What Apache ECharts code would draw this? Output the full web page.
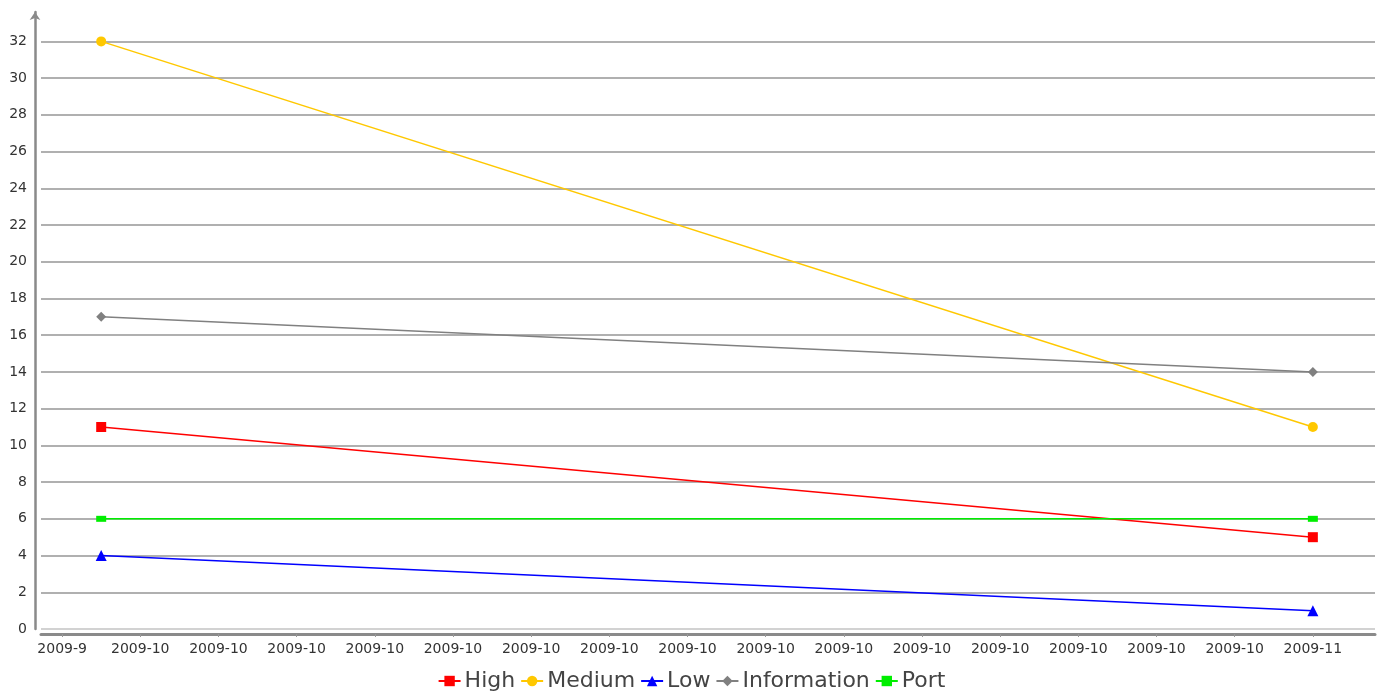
<!DOCTYPE html>
<html>
<head>
<meta charset="utf-8">
<script src="https://cdn.jsdelivr.net/npm/echarts@6/dist/echarts.min.js"></script>
<style>html,body{margin:0;padding:0;background:#fff;}#c{width:1383px;height:693px;}</style>
</head>
<body>
<div id="c"></div>
<script>
// Dates of the two observations, as days counted from 2009-09-30
var dates = ['2009-10-01', '2009-11-01'];
var xDays = [1, 32];
// Series values
var high = [11, 5];
var medium = [32, 11];
var low = [4, 1];
var information = [17, 14];
var port = [6, 6];
// X tick positions (days from 2009-09-30) and their labels
var xTickValues = [0, 2, 4, 6, 8, 10, 12, 14, 16, 18, 20, 22, 24, 26, 28, 30, 32];
var xTickLabels = ['2009-9', '2009-10', '2009-10', '2009-10', '2009-10', '2009-10', '2009-10', '2009-10',
  '2009-10', '2009-10', '2009-10', '2009-10', '2009-10', '2009-10', '2009-10', '2009-10', '2009-11'];
// Y tick values
var yTickValues = [0, 2, 4, 6, 8, 10, 12, 14, 16, 18, 20, 22, 24, 26, 28, 30, 32];

function pairs(vals) {
  return vals.map(function (v, i) { return [xDays[i], v]; });
}

var chart = echarts.init(document.getElementById('c'));
var font = 'DejaVu Sans';
var splitColors = yTickValues.map(function (v, i) { return i === 0 ? '#d2d2d2' : '#b0b0b0'; });

function mk(name, data, color, symbol, size) {
  return {
    name: name, type: 'line', data: pairs(data), symbol: symbol, symbolSize: size,
    showSymbol: true, itemStyle: { color: color }, lineStyle: { color: color, width: 1.5 },
    emphasis: { disabled: true }
  };
}

chart.setOption({
  animation: false,
  backgroundColor: '#ffffff',
  grid: { left: 41, right: 8, top: 12, bottom: 64, containLabel: false },
  xAxis: {
    type: 'value', min: -0.54, max: 33.59, offset: 5,
    axisLine: { show: true, onZero: false, lineStyle: { color: '#8a8a8a', width: 3 } },
    axisTick: { show: true, length: 3, customValues: xTickValues, lineStyle: { color: '#999' } },
    axisLabel: {
      customValues: xTickValues, color: '#333', fontSize: 14, fontFamily: font, margin: 8,
      formatter: function (v) { var i = xTickValues.indexOf(Math.round(v)); return i >= 0 ? xTickLabels[i] : ''; }
    },
    splitLine: { show: false }
  },
  yAxis: {
    type: 'value', min: 0, max: 33.6, offset: 6,
    axisLine: { show: true, onZero: false, symbol: ['none', 'arrow'], symbolSize: [8, 8], lineStyle: { color: '#8a8a8a', width: 2.5 } },
    axisTick: { show: false, customValues: yTickValues },
    axisLabel: { customValues: yTickValues, color: '#333', fontSize: 14, fontFamily: font, margin: 8 },
    splitLine: { show: true, lineStyle: { color: splitColors, width: 2 } }
  },
  legend: {
    top: 665, left: 'center', itemWidth: 22, itemHeight: 13, itemGap: 5,
    textStyle: { fontSize: 22, color: '#444', fontFamily: font, padding: [0, 0, 0, -1] },
    data: ['High', 'Medium', 'Low', 'Information', 'Port']
  },
  series: [
    mk('High', high, '#ff0000', 'rect', 10),
    mk('Medium', medium, '#ffc800', 'circle', 10),
    mk('Low', low, '#0000ff', 'triangle', 11),
    mk('Information', information, '#808080', 'diamond', 10),
    mk('Port', port, '#00ee00', 'rect', [10, 6])
  ]
});
</script>
</body>
</html>
